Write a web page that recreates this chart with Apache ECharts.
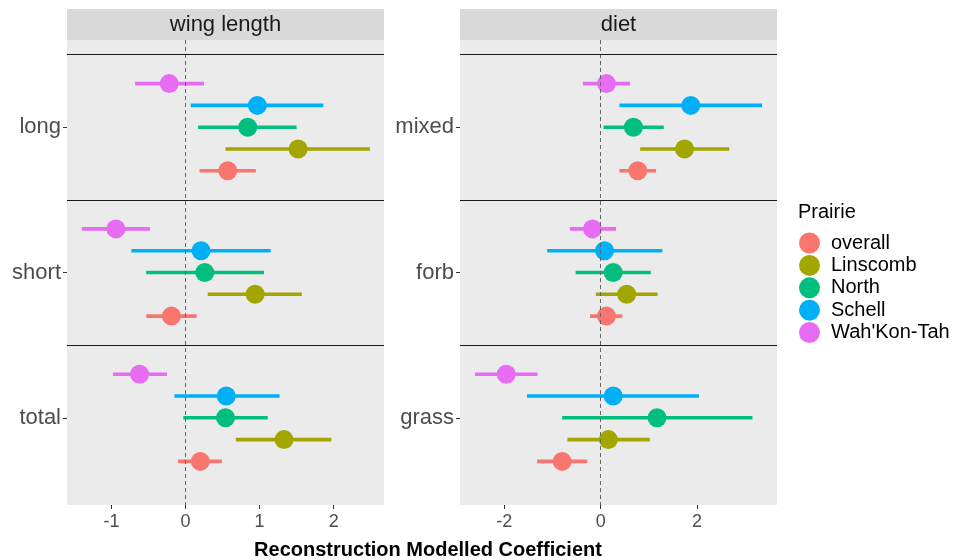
<!DOCTYPE html>
<html>
<head>
<meta charset="utf-8">
<script src="https://cdn.jsdelivr.net/npm/echarts@6/dist/echarts.min.js"></script>
<style>
html,body{margin:0;padding:0;background:#fff;}
#chart{width:958px;height:560px;}
</style>
</head>
<body>
<div id="chart"></div>
<script>
// ---- data ----
const prairies = ['overall', 'Linscomb', 'North', 'Schell', "Wah'Kon-Tah"];
const prairieColors = ['#F8766D', '#A3A500', '#00BF7D', '#00B0F6', '#E76BF3'];

const wingCats = ['long', 'short', 'total'];
const dietCats = ['mixed', 'forb', 'grass'];

const wingTicks = [-1, 0, 1, 2];
const dietTicks = [-2, 0, 2];

// rows: prairies (same order as above); columns: categories
const wingEst = [
  [0.57, -0.19, 0.20],
  [1.52, 0.94, 1.33],
  [0.84, 0.26, 0.54],
  [0.97, 0.21, 0.55],
  [-0.22, -0.94, -0.62]
];
const wingLo = [
  [0.19, -0.53, -0.10],
  [0.54, 0.30, 0.68],
  [0.17, -0.53, -0.03],
  [0.07, -0.73, -0.15],
  [-0.68, -1.40, -0.98]
];
const wingHi = [
  [0.95, 0.15, 0.49],
  [2.49, 1.57, 1.97],
  [1.50, 1.06, 1.11],
  [1.86, 1.15, 1.27],
  [0.25, -0.48, -0.25]
];

const dietEst = [
  [0.77, 0.12, -0.80],
  [1.74, 0.54, 0.16],
  [0.68, 0.26, 1.17],
  [1.87, 0.08, 0.26],
  [0.12, -0.17, -1.96]
];
const dietLo = [
  [0.39, -0.22, -1.32],
  [0.82, -0.10, -0.69],
  [0.06, -0.52, -0.80],
  [0.39, -1.11, -1.53],
  [-0.37, -0.64, -2.61]
];
const dietHi = [
  [1.15, 0.45, -0.28],
  [2.67, 1.18, 1.02],
  [1.31, 1.04, 3.15],
  [3.35, 1.28, 2.04],
  [0.61, 0.32, -1.31]
];

// ---- build ----
const FONT = '"Liberation Sans", Arial, sans-serif';
const dodge = 0.15;

function xAxisFor(grid, min, max, ticks) {
  return {
    gridIndex: grid, type: 'value', min: min, max: max,
    splitLine: { show: false },
    axisLine: { show: false, onZero: false },
    axisTick: { show: true, length: 4, customValues: ticks, lineStyle: { color: '#333333', width: 1 } },
    axisLabel: { customValues: ticks, fontSize: 18, color: '#4D4D4D', margin: 8, fontFamily: FONT }
  };
}
function yAxisFor(grid, cats) {
  const vals = cats.map((c, i) => i + 1);
  return {
    gridIndex: grid, type: 'value', min: 0.4, max: 3.6, inverse: true,
    splitLine: { show: false },
    axisLine: { show: false, onZero: false },
    axisTick: { show: true, length: 4, customValues: vals, lineStyle: { color: '#333333', width: 1 } },
    axisLabel: { customValues: vals, formatter: v => cats[Math.round(v) - 1], fontSize: 22, color: '#4D4D4D', margin: 6, fontFamily: FONT }
  };
}

const series = [];
function addFacet(grid, cats, est, lo, hi) {
  // reference lines
  series.push({
    type: 'line', xAxisIndex: grid, yAxisIndex: grid, data: [], silent: true, z: 1,
    markLine: {
      silent: true, symbol: ['none', 'none'], label: { show: false }, animation: false,
      lineStyle: { color: '#1A1A1A', width: 1.2, type: 'solid' },
      data: [
        { xAxis: 0, lineStyle: { color: '#666666', width: 1, type: [4, 3] } },
        { yAxis: 0.5 }, { yAxis: 1.5 }, { yAxis: 2.5 }
      ]
    }
  });
  prairies.forEach((p, i) => {
    const off = (2 - i) * dodge;
    const color = prairieColors[i];
    series.push({
      name: p, type: 'custom', xAxisIndex: grid, yAxisIndex: grid, z: 2,
      itemStyle: { color: color },
      encode: { x: [0, 1], y: 2 },
      data: cats.map((c, j) => [lo[i][j], hi[i][j], j + 1 + off]),
      renderItem: (params, api) => {
        const y = api.value(2);
        const a = api.coord([api.value(0), y]);
        const b = api.coord([api.value(1), y]);
        return { type: 'line', shape: { x1: a[0], y1: a[1], x2: b[0], y2: b[1] }, style: { stroke: color, lineWidth: 3.6 } };
      }
    });
    series.push({
      name: p, type: 'scatter', xAxisIndex: grid, yAxisIndex: grid, z: 3,
      symbol: 'circle', symbolSize: 19,
      itemStyle: { color: color, opacity: 1 },
      data: cats.map((c, j) => [est[i][j], j + 1 + off])
    });
  });
}
addFacet(0, wingCats, wingEst, wingLo, wingHi);
addFacet(1, dietCats, dietEst, dietLo, dietHi);

const option = {
  animation: false,
  backgroundColor: '#FFFFFF',
  textStyle: { fontFamily: FONT },
  grid: [
    { left: 67, top: 40, width: 317, height: 465, show: true, backgroundColor: '#EBEBEB', borderWidth: 0, containLabel: false },
    { left: 460, top: 40, width: 317, height: 465, show: true, backgroundColor: '#EBEBEB', borderWidth: 0, containLabel: false }
  ],
  xAxis: [xAxisFor(0, -1.6, 2.68, wingTicks), xAxisFor(1, -2.92, 3.66, dietTicks)],
  yAxis: [yAxisFor(0, wingCats), yAxisFor(1, dietCats)],
  legend: {
    orient: 'vertical', left: 799, top: 232.5, padding: 0, itemWidth: 21, itemHeight: 21, itemGap: 1.4,
    icon: 'circle', data: prairies,
    textStyle: { fontSize: 20, color: '#000000', fontFamily: FONT, padding: [0, 0, 0, 6] }
  },
  graphic: [
    { type: 'rect', shape: { x: 67, y: 9, width: 317, height: 31 }, style: { fill: '#D9D9D9' } },
    { type: 'rect', shape: { x: 460, y: 9, width: 317, height: 31 }, style: { fill: '#D9D9D9' } },
    { type: 'text', x: 225.5, y: 25, style: { text: 'wing length', fontSize: 22, fill: '#1A1A1A', align: 'center', verticalAlign: 'middle', fontFamily: FONT } },
    { type: 'text', x: 618.5, y: 25, style: { text: 'diet', fontSize: 22, fill: '#1A1A1A', align: 'center', verticalAlign: 'middle', fontFamily: FONT } },
    { type: 'text', x: 428, y: 550, style: { text: 'Reconstruction Modelled Coefficient', fontSize: 20, fontWeight: 'bold', fill: '#000000', align: 'center', verticalAlign: 'middle', fontFamily: FONT } },
    { type: 'text', x: 798, y: 212, style: { text: 'Prairie', fontSize: 20, fill: '#000000', align: 'left', verticalAlign: 'middle', fontFamily: FONT } }
  ],
  series: series
};

const chart = echarts.init(document.getElementById('chart'), null, { renderer: 'canvas' });
chart.setOption(option);
</script>
</body>
</html>
